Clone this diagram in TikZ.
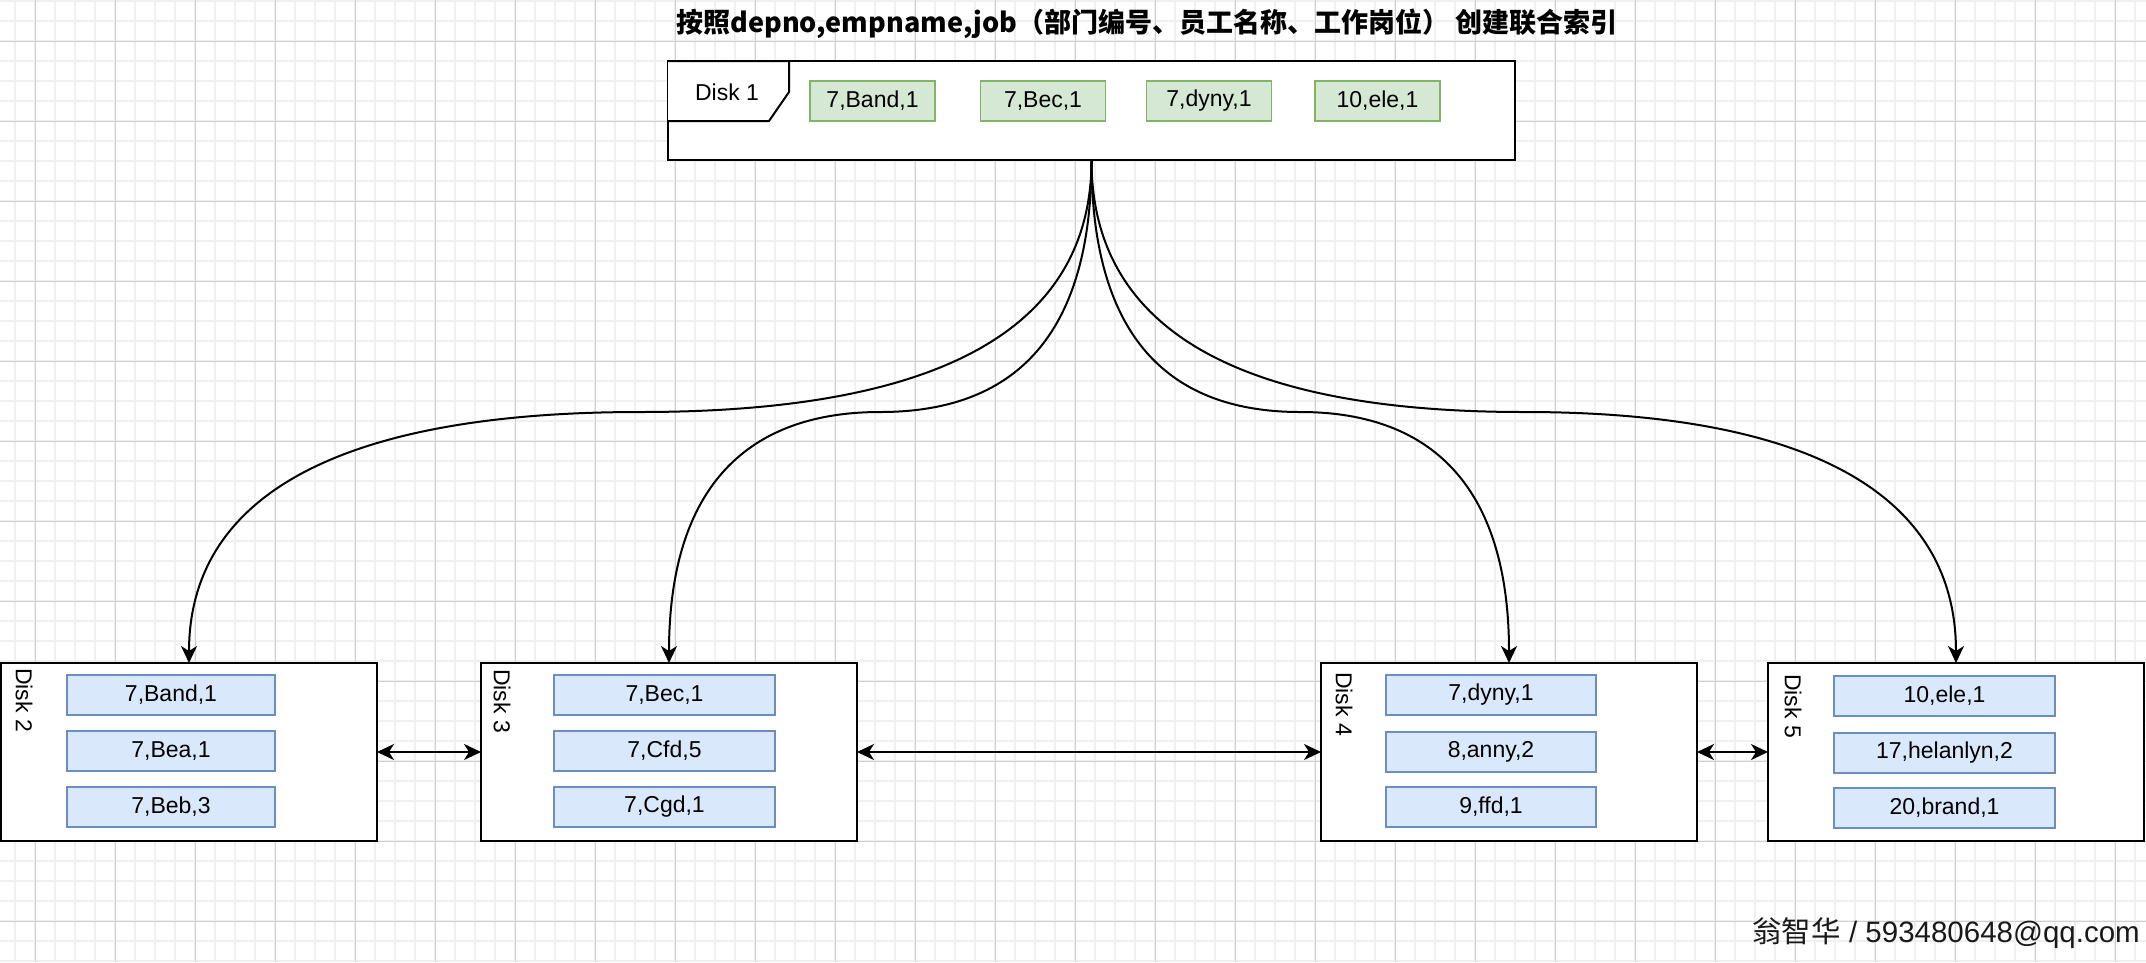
\documentclass[tikz,border=0pt]{standalone}
\usepackage{fontspec}
\setmainfont{Liberation Sans}
\newfontfamily\cjk{Noto Sans CJK SC}
\usetikzlibrary{arrows.meta,calc}

\definecolor{gridminor}{RGB}{240,240,240}
\definecolor{gridmajor}{RGB}{208,208,208}
\definecolor{bluefill}{HTML}{DAE8FC}
\definecolor{bluedraw}{HTML}{6C8EBF}
\definecolor{greenfill}{HTML}{D5E8D4}
\definecolor{greendraw}{HTML}{82B366}

\begin{document}
\begin{tikzpicture}[x=1pt,y=-1pt,
  disk/.style={draw=black, line width=2pt, fill=white, inner sep=0pt, outer sep=0pt, minimum width=376pt, minimum height=178pt},
  rec/.style={draw=bluedraw, fill=bluefill, line width=1.4pt, inner sep=0pt, minimum height=40pt, font=\fontsize{23}{27}\selectfont},
  grec/.style={draw=greendraw, fill=greenfill, line width=1.4pt, inner sep=0pt, minimum width=125pt, minimum height=40pt, font=\fontsize{23}{27}\selectfont},
  vlabel/.style={rotate=-90, inner sep=0pt, font=\fontsize{23}{27}\selectfont},
  link/.style={line width=2pt, -{Stealth[length=17pt,width=16pt,inset=5pt]}},
  dlink/.style={line width=2pt, {Stealth[length=17pt,width=16pt,inset=5pt]}-{Stealth[length=17pt,width=16pt,inset=5pt]}},
]
\useasboundingbox (0,0) rectangle (2146,962);
\fill[white] (0,0) rectangle (2146,962);
% grid
\foreach \x in {15,35,...,2146} \draw[gridminor, line width=1.5pt] (\x,0) -- (\x,962);
\foreach \y in {1,21,...,962} \draw[gridminor, line width=1.5pt] (0,\y) -- (2146,\y);
\foreach \x in {35,115,...,2146} \draw[gridmajor, line width=1pt] (\x,0) -- (\x,962);
\foreach \y in {41,121,...,962} \draw[gridmajor, line width=1pt] (0,\y) -- (2146,\y);

% title
\node[font=\cjk\bfseries\fontsize{27}{31}\selectfont] (title) at (1147,24) {按照depno,empname,job（部门编号、员工名称、工作岗位） 创建联合索引};

% Disk 1
\node[disk, minimum width=847pt, minimum height=99pt] (d1) at (1091.5,110.5) {};
\draw[line width=2pt, fill=white] (d1.north west) -- ++(121,0) -- ++(0,31) -- ++(-20,29) -- ++(-101,0);
\node[font=\fontsize{23}{27}\selectfont] (d1lab) at (727,92) {Disk 1};
\node[grec] (g1) at (872.5,101) {7,Band,1};
\node[grec] (g2) at (1043,101) {7,Bec,1};
\node[grec] (g3) at (1209,101) {7,dyny,1};
\node[grec] (g4) at (1377.5,101) {10,ele,1};

% lower disks
\node[disk] (d2) at (189,752) {};
\node[disk] (d3) at (669,752) {};
\node[disk] (d4) at (1509,752) {};
\node[disk] (d5) at (1956,752) {};

\node[vlabel] (d2lab) at (24,700) {Disk 2};
\node[vlabel] (d3lab) at (502,701) {Disk 3};
\node[vlabel] (d4lab) at (1344,704) {Disk 4};
\node[vlabel] (d5lab) at (1793,706) {Disk 5};

\node[rec, minimum width=208pt] (b21) at (171,695) {7,Band,1};
\node[rec, minimum width=208pt] (b22) at (171,751) {7,Bea,1};
\node[rec, minimum width=208pt] (b23) at (171,807) {7,Beb,3};

\node[rec, minimum width=221pt] (b31) at (664.5,695) {7,Bec,1};
\node[rec, minimum width=221pt] (b32) at (664.5,751) {7,Cfd,5};
\node[rec, minimum width=221pt] (b33) at (664.5,807) {7,Cgd,1};

\node[rec, minimum width=210pt] (b41) at (1491,695) {7,dyny,1};
\node[rec, minimum width=210pt] (b42) at (1491,752) {8,anny,2};
\node[rec, minimum width=210pt] (b43) at (1491,807) {9,ffd,1};

\node[rec, minimum width=221pt] (b51) at (1944.5,696) {10,ele,1};
\node[rec, minimum width=221pt] (b52) at (1944.5,753) {17,helanlyn,2};
\node[rec, minimum width=221pt] (b53) at (1944.5,808) {20,brand,1};

% curved connectors
\draw[link] (d1.south) .. controls (1091.5,328.3) and (941.1,412) .. (640.25,412) .. controls (339.4,412) and (189,495.7) .. (d2.north);
\draw[link] (d1.south) .. controls (1091.5,328.3) and (1021.1,412) .. (880.25,412) .. controls (739.4,412) and (669,495.7) .. (d3.north);
\draw[link] (d1.south) .. controls (1091.5,328.3) and (1161.1,412) .. (1300.25,412) .. controls (1439.4,412) and (1509,495.7) .. (d4.north);
\draw[link] (d1.south) .. controls (1091.5,328.3) and (1235.6,412) .. (1523.75,412) .. controls (1811.9,412) and (1956,495.7) .. (d5.north);

% horizontal connectors
\draw[dlink] (d2.east) -- (d3.west);
\draw[dlink] (d3.east) -- (d4.west);
\draw[dlink] (d4.east) -- (d5.west);

% watermark
\node[anchor=base east, inner sep=0pt, font=\fontsize{29.5}{34}\selectfont, text=black!90] (wm) at (2140,942) {{\cjk 翁智华} / 593480648@qq.com};
\end{tikzpicture}
\end{document}
